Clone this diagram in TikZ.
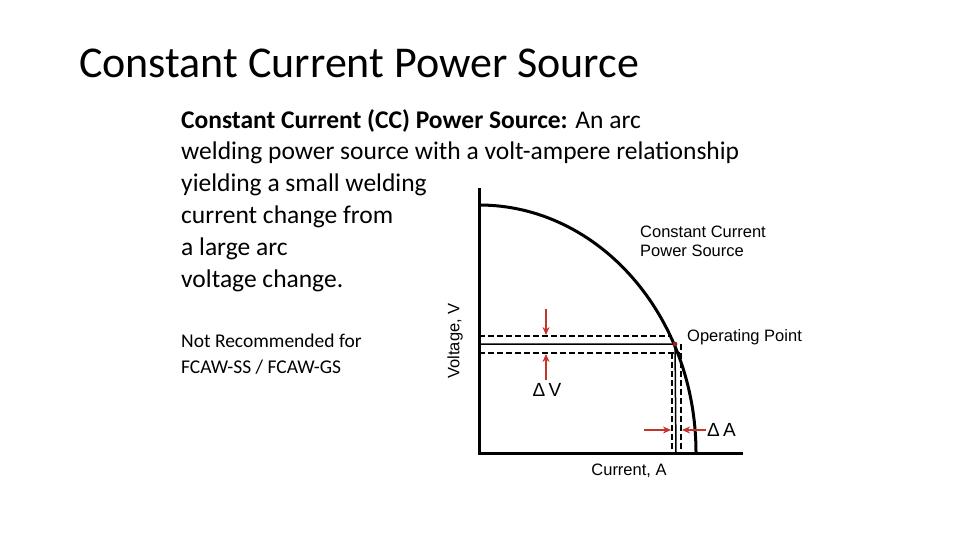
\documentclass[tikz,border=0pt]{standalone}
\usepackage{fontspec}
\setmainfont{Carlito}
\newfontfamily\arial{Liberation Sans}
\usetikzlibrary{arrows.meta}
\definecolor{ared}{RGB}{200,50,40}
\begin{document}
\begin{tikzpicture}[x=1pt,y=-1pt,
  body/.style={anchor=west,inner sep=0pt,font=\fontsize{25.5}{30}\selectfont},
  lab/.style={inner sep=0pt,font=\arial\fontsize{16.5}{19}\selectfont},
  dsh/.style={draw,dashed,dash pattern=on 6pt off 3pt,line width=1.3pt},
  rarr/.style={draw=ared,line width=1.4pt,-{Stealth[length=8pt,width=7pt]}}]
\useasboundingbox (0,0) rectangle (960,540);
\node[anchor=west,inner sep=0pt,font=\fontsize{44}{48}\selectfont] (title) at (79,63) {Constant Current Power Source};
\node[body] (l1) at (181,121) {\textbf{Constant Current (CC) Power Source:} An arc};
\node[body] (l2) at (181,153) {welding power source with a volt-ampere relationship};
\node[body] (l3) at (181,185) {yielding a small welding};
\node[body] (l4) at (181,217) {current change from};
\node[body] (l5) at (181,249) {a large arc};
\node[body] (l6) at (181,281) {voltage change.};
\node[body,font=\fontsize{19.5}{22}\selectfont] (n1) at (181,341) {Not Recommended for};
\node[body,font=\fontsize{19.5}{22}\selectfont] (n2) at (181,367) {FCAW-SS / FCAW-GS};
% axes
\coordinate (o) at (479,453);
\coordinate (ytop) at (479,188);
\coordinate (xend) at (743,453);
\draw[line width=3pt] (ytop) -- (o) -- (xend);
% curve
\draw[line width=3pt] (479,205) arc[start angle=-90,end angle=0,x radius=217,y radius=248];
\coordinate (op) at (675,344);
\draw[line width=1.5pt] (479,344) -- (op) -- (676,453);
\draw[dsh] (479,336) -- (672,336);
\draw[dsh] (479,353) -- (680,353);
\draw[dsh] (672,353) -- (672,453);
\draw[dsh] (681,344) -- (681,453);
\fill[ared!70!black] (op) circle (2.4pt);
\coordinate (a1s) at (546,309); \coordinate (a1e) at (546,335);
\coordinate (a2s) at (546,380); \coordinate (a2e) at (546,354);
\draw[rarr] (a1s) -- (a1e);
\draw[rarr] (a2s) -- (a2e);
\coordinate (a3s) at (644,430); \coordinate (a3e) at (671,430);
\coordinate (a4s) at (706,430); \coordinate (a4e) at (682,430);
\draw[rarr] (a3s) -- (a3e);
\draw[rarr] (a4s) -- (a4e);
\node[lab,font=\arial\fontsize{19}{22}\selectfont] (dv) at (547,390) {Δ\,V};
\node[lab,font=\arial\fontsize{19}{22}\selectfont,anchor=west] (da) at (707,430) {Δ\,A};
\node[lab,anchor=west,align=left] (cc) at (640,241) {Constant Current\\Power Source};
\node[lab,anchor=west] (opl) at (687,337) {Operating Point};
\node[lab] (xl) at (629,471) {Current, A};
\node[lab,rotate=90] (yl) at (455,341) {Voltage, V};
\end{tikzpicture}
\end{document}
